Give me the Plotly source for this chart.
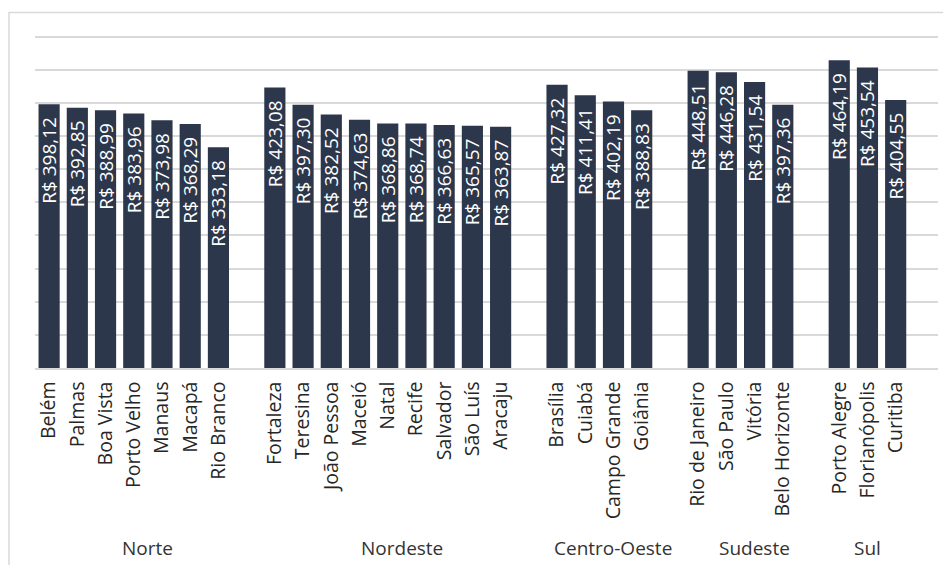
import plotly.graph_objects as go

regions = ["Norte", "Nordeste", "Centro-Oeste", "Sudeste", "Sul"]

norte_cities = ["Belém", "Palmas", "Boa Vista", "Porto Velho", "Manaus", "Macapá", "Rio Branco"]
norte_values = [398.12, 392.85, 388.99, 383.96, 373.98, 368.29, 333.18]

nordeste_cities = ["Fortaleza", "Teresina", "João Pessoa", "Maceió", "Natal", "Recife",
                   "Salvador", "São Luís", "Aracaju"]
nordeste_values = [423.08, 397.30, 382.52, 374.63, 368.86, 368.74, 366.63, 365.57, 363.87]

centro_oeste_cities = ["Brasília", "Cuiabá", "Campo Grande", "Goiânia"]
centro_oeste_values = [427.32, 411.41, 402.19, 388.83]

sudeste_cities = ["Rio de Janeiro", "São Paulo", "Vitória", "Belo Horizonte"]
sudeste_values = [448.51, 446.28, 431.54, 397.36]

sul_cities = ["Porto Alegre", "Florianópolis", "Curitiba"]
sul_values = [464.19, 453.54, 404.55]

groups = [
    (regions[0], norte_cities, norte_values),
    (regions[1], nordeste_cities, nordeste_values),
    (regions[2], centro_oeste_cities, centro_oeste_values),
    (regions[3], sudeste_cities, sudeste_values),
    (regions[4], sul_cities, sul_values),
]

BAR_COLOR = "#2c374b"
GRID = "#d9d9d9"
FONT = "Open Sans"

xs, ys, names, labels = [], [], [], []
region_centers = []
pos = 0
for gi, (reg, cities, vals) in enumerate(groups):
    start = pos
    for c, v in zip(cities, vals):
        xs.append(pos)
        ys.append(v)
        names.append(c)
        labels.append("R$ " + f"{v:.2f}".replace(".", ",") + "\u00a0\u00a0")
        pos += 1
    end = pos if gi < len(groups) - 1 else pos - 1  # include trailing blank slot
    region_centers.append((reg, (start + end) / 2))
    pos += 1  # blank slot between groups
n_slots = pos - 1

fig = go.Figure(go.Bar(
    x=xs, y=ys, width=0.75,
    marker=dict(color=BAR_COLOR, line=dict(width=0)),
    text=labels, textposition="inside", insidetextanchor="end",
    textangle=-90, constraintext="none",
    textfont=dict(family=FONT, size=19, color="white"),
    hoverinfo="skip",
))

# plot area: 510 units over 337.6 px (0.662 px/unit), baseline at 360 px from top
for reg, cx in region_centers:
    fig.add_annotation(x=cx, y=-180 / 337.6, xref="x", yref="paper", text=reg,
                       showarrow=False, yanchor="middle", xanchor="center",
                       font=dict(family=FONT, size=19, color="#333333"))

fig.add_shape(type="rect", xref="paper", yref="paper",
              x0=-0.0288, x1=1.1, y0=-0.7, y1=355 / 337.6,
              line=dict(color=GRID, width=1.5), layer="below")

fig.update_layout(
    width=951, height=565,
    margin=dict(l=27, r=21, t=22.4, b=205),
    paper_bgcolor="white", plot_bgcolor="white",
    showlegend=False,
    font=dict(family=FONT, color="#262626"),
    xaxis=dict(range=[-0.5, n_slots + 0.5], tickmode="array", tickvals=xs, ticktext=names,
               tickangle=-90, tickfont=dict(family=FONT, size=19.5, color="#262626"),
               ticks="", ticklabelstandoff=4, showgrid=False, zeroline=False,
               showline=True, linecolor=GRID, linewidth=1.5),
    yaxis=dict(range=[0, 510], tickvals=list(range(0, 501, 50)), showticklabels=False,
               gridcolor=GRID, gridwidth=1.5, zeroline=False, showline=False),
)

fig.write_html("out.html")
